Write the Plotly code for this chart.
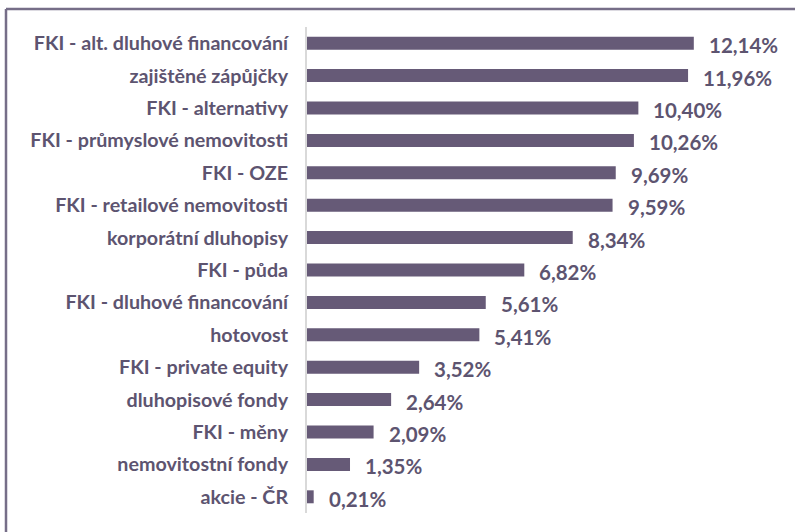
import plotly.graph_objects as go

categories = [
    "FKI - alt. dluhové financování",
    "zajištěné zápůjčky",
    "FKI - alternativy",
    "FKI - průmyslové nemovitosti",
    "FKI - OZE",
    "FKI - retailové nemovitosti",
    "korporátní dluhopisy",
    "FKI - půda",
    "FKI - dluhové financování",
    "hotovost",
    "FKI - private equity",
    "dluhopisové fondy",
    "FKI - měny",
    "nemovitostní fondy",
    "akcie - ČR",
]
values = [12.14, 11.96, 10.40, 10.26, 9.69, 9.59, 8.34, 6.82, 5.61, 5.41, 3.52, 2.64, 2.09, 1.35, 0.21]
value_labels = [f"{v:.2f}".replace(".", ",") + "%" for v in values]

W, H = 795, 532
ML, MR, MT, MB = 307, 26, 27, 19
BAR = "#665a77"
TXT = "#5d5470"
FRAME = "#766e88"
FONT = "Lato, Carlito, 'Open Sans', sans-serif"

fig = go.Figure(go.Bar(
    x=values, y=categories, orientation="h",
    marker=dict(color=BAR, line=dict(width=0)),
    width=0.4,
    hoverinfo="skip",
))

for c, v, t in zip(categories, values, value_labels):
    fig.add_annotation(x=v, y=c, text=f"<b>{t}</b>", showarrow=False,
                       xanchor="left", yanchor="middle", xshift=13, yshift=-2,
                       font=dict(family=FONT, size=20.5, color=TXT))

pw = W - ML - MR
ph = H - MT - MB
# frame in paper coords (left and top edges visible in the window)
fx = (6 - ML) / pw
fy = 1 + (MT - 9) / ph
fyb = -(MB + 10) / ph
fxr = 1 + (MR + 10) / pw
fig.add_shape(type="line", xref="paper", yref="paper", x0=fx, x1=fxr, y0=fy, y1=fy,
              line=dict(color=FRAME, width=2.5))
fig.add_shape(type="line", xref="paper", yref="paper", x0=fx, x1=fx, y0=fyb, y1=fy,
              line=dict(color=FRAME, width=2.5))

fig.update_layout(
    width=W, height=H,
    margin=dict(l=ML, r=MR, t=MT, b=MB, autoexpand=False),
    plot_bgcolor="white", paper_bgcolor="white",
    showlegend=False,
    bargap=0.6,
    xaxis=dict(range=[0, 14.5], visible=False, fixedrange=True, automargin=False),
    yaxis=dict(
        autorange="reversed", automargin=False,
        showline=True, linecolor="#d9d9d9", linewidth=2,
        showgrid=False, ticks="", ticklabelstandoff=13,
        tickfont=dict(family=FONT, size=19.7, color=TXT, weight="bold"),
        fixedrange=True,
    ),
)

fig.write_html("out.html", config={"displayModeBar": False},
               post_script="document.body.style.margin='0';document.body.style.overflow='hidden';")
